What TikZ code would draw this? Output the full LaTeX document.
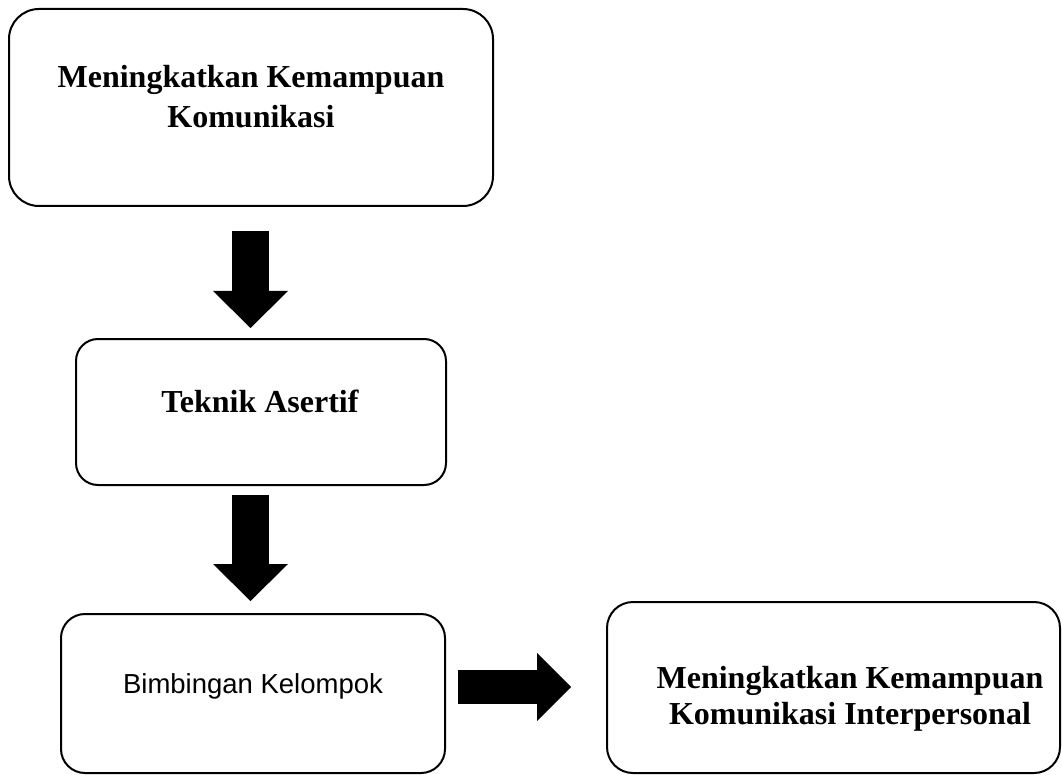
\documentclass[tikz,border=0pt]{standalone}
\usepackage{fontspec}
\setmainfont{Liberation Serif}
\newfontfamily\boxsans{Liberation Sans}
\usetikzlibrary{arrows.meta,calc}
\begin{document}
\begin{tikzpicture}[x=1pt,y=-1pt,
  box/.style={draw=black,line width=2pt,rounded corners=#1,inner sep=0pt},
  box/.default=24pt,
  ttl/.style={anchor=base,inner sep=0pt,font=\fontsize{32}{38}\selectfont\bfseries},
  sub/.style={anchor=base,inner sep=0pt,font=\fontsize{27.5}{33}\selectfont\boxsans},
  blk/.style={line width=37pt,-{Triangle[width=75pt,length=37pt,line width=0pt]}},
  blkh/.style={line width=34pt,-{Triangle[width=68pt,length=34pt,line width=0pt]}}
]
\useasboundingbox (0,0) rectangle (1062,775);
\node[box=30pt,minimum width=484pt,minimum height=197pt] (b1) at (251,107.5) {};
\node[box=22pt,minimum width=370pt,minimum height=146pt] (b2) at (261,412) {};
\node[box=24pt,minimum width=384pt,minimum height=159pt] (b3) at (253,693.5) {};
\node[box=26pt,minimum width=453pt,minimum height=171pt] (b4) at (833.5,687.5) {};
\node[ttl] (t1a) at (251,88) {Meningkatkan Kemampuan};
\node[ttl] (t1b) at (251,128) {Komunikasi};
\node[ttl] (t2) at (260,412) {Teknik Asertif};
\node[sub] (t3) at (253,693) {Bimbingan Kelompok};
\node[ttl] (t4a) at (850,688) {Meningkatkan Kemampuan};
\node[ttl] (t4b) at (850,724) {Komunikasi Interpersonal};
\coordinate (a1s) at ($(b1.south)+(-0.5,24)$);
\coordinate (a1e) at ($(b2.north -| a1s)+(0,-10)$);
\coordinate (a2s) at ($(b2.south -| a1s)+(0,9)$);
\coordinate (a2e) at ($(b3.north -| a1s)+(0,-12)$);
\coordinate (a3s) at ($(b3.east)+(12,-6.5)$);
\coordinate (a3e) at ($(a3s -| b4.west)+(-35,0)$);
\draw[blk] (a1s) -- (a1e);
\draw[blk] (a2s) -- (a2e);
\draw[blkh] (a3s) -- (a3e);
\end{tikzpicture}
\end{document}
